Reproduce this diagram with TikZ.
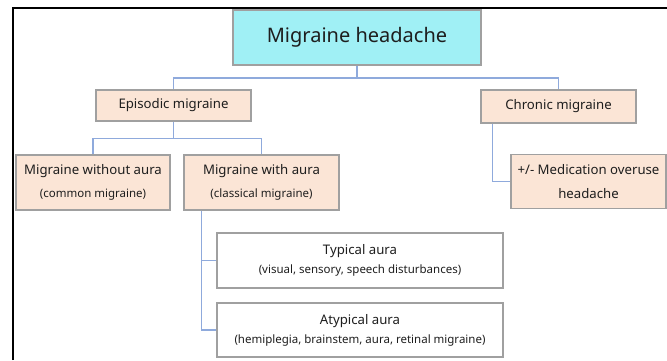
\documentclass[tikz,border=0pt]{standalone}
\usepackage{fontspec}
\setmainfont{Noto Sans}
\definecolor{cyanfill}{RGB}{160,240,245}
\definecolor{peach}{RGB}{251,229,214}
\definecolor{boxgray}{RGB}{160,160,160}
\definecolor{linkblue}{RGB}{143,170,220}
\definecolor{txt}{RGB}{30,30,30}
\newcommand{\smalltxt}{\fontsize{11.5}{13}\selectfont}
\begin{document}
\begin{tikzpicture}[x=1pt,y=-1pt,
  box/.style={draw=boxgray, line width=1.1pt, inner sep=0pt, align=center, text=txt},
  peachbox/.style={box, fill=peach},
  whitebox/.style={box, fill=white},
  link/.style={draw=linkblue, line width=1.2pt},
  big/.style={font=\fontsize{20}{24}\selectfont},
  mid/.style={font=\fontsize{13.2}{16}\selectfont}]
\useasboundingbox (0,0) rectangle (667,360);
\fill[white] (0,0) rectangle (667,360);
\draw[black, line width=1.6pt] (13,360) -- (13,8) -- (667,8);

\node[box, fill=cyanfill, minimum width=248pt, minimum height=55pt, big] (main) at (357,37.5) {Migraine headache};
\node[peachbox, minimum width=155pt, minimum height=31pt, mid] (epi) at (173.5,105.5) {Episodic migraine};
\node[peachbox, minimum width=155pt, minimum height=33pt, mid] (chron) at (558.5,106.5) {Chronic migraine};
\node[peachbox, minimum width=154pt, minimum height=55pt, mid] (without) at (93,182.5) {Migraine without aura\\[7pt]{\smalltxt (common migraine)}};
\node[peachbox, minimum width=155pt, minimum height=55pt, mid] (with) at (261.5,182.5) {Migraine with aura\\[7pt]{\smalltxt (classical migraine)}};
\node[peachbox, minimum width=155pt, minimum height=54pt, mid] (med) at (588.5,181.5) {+/- Medication overuse\\[8pt]headache};
\node[whitebox, minimum width=286pt, minimum height=55pt, mid] (typ) at (360,260.5) {Typical aura\\[3pt]{\smalltxt (visual, sensory, speech disturbances)}};
\node[whitebox, minimum width=286pt, minimum height=54pt, mid] (atyp) at (360,330) {Atypical aura\\[3pt]{\smalltxt (hemiplegia, brainstem, aura, retinal migraine)}};

\coordinate (m1) at ([yshift=-12.5pt]main.south);
\draw[link] (main.south) -- (m1) -| (epi.north);
\draw[link] (m1) -| (chron.north);
\coordinate (e1) at ([yshift=-17pt]epi.south);
\draw[link] (epi.south) -- (e1) -| (without.north);
\draw[link] (e1) -| (with.north);
\coordinate (c1) at ([xshift=12pt]chron.south west);
\draw[link] (c1) |- (med.west);
\coordinate (w1) at ([xshift=18pt]with.south west);
\draw[link] (w1) |- (typ.west);
\draw[link] (w1) |- (atyp.west);
\end{tikzpicture}
\end{document}
